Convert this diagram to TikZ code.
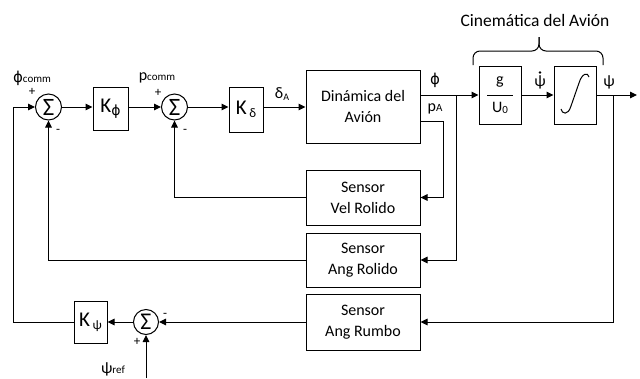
\documentclass[tikz,border=0pt]{standalone}
\usepackage{fontspec}
\setmainfont{Carlito}
\newfontfamily\dvs{DejaVu Sans}
\usetikzlibrary{arrows.meta,calc}
\begin{document}
\begin{tikzpicture}[x=1pt,y=-1pt, line width=1pt,
  blk/.style={draw, line width=1pt, inner sep=0pt, align=center, font=\fontsize{16}{21}\selectfont},
  sumnode/.style={draw, circle, minimum size=26pt, inner sep=0pt, font=\fontsize{25}{25}\selectfont},
  arr/.style={-{Triangle[length=7pt,width=6.5pt]}},
  lbl/.style={inner sep=0pt, font=\fontsize{16}{16}\selectfont},
  sgn/.style={inner sep=0pt, font=\fontsize{13}{13}\selectfont}]
\path[use as bounding box] (0,0) rectangle (640,378);
% title and brace
\node[inner sep=0pt, font=\fontsize{17.5}{17.5}\selectfont] (title) at (535,20) {Cinemática del Avión};
\draw[rounded corners=7pt] (473,65) -- (473,51) -- (539,51) -- (539,37);
\draw[rounded corners=7pt] (603,65) -- (603,51) -- (539,51) -- (539,37);
% blocks
\node[sumnode] (s1) at (48.5,107) {Σ};
\node[blk, minimum width=35pt, minimum height=43pt] (kphi) at (110.5,108.5)
  {{\fontsize{21}{21}\selectfont K}{\dvs\fontsize{14}{14}\selectfont\raisebox{-3pt}{ϕ}}};
\node[sumnode] (s2) at (174.5,107) {Σ};
\node[blk, minimum width=34pt, minimum height=45pt] (kd) at (246,109.5)
  {{\fontsize{21}{21}\selectfont K}\,{\fontsize{13}{13}\selectfont\raisebox{-3pt}{δ}}};
\node[blk, minimum width=114pt, minimum height=73pt] (dyn) at (363,106.5) {Dinámica del\\Avión};
\node[blk, minimum width=42pt, minimum height=58pt] (gU) at (500,95) {};
\node[blk, minimum width=42pt, minimum height=58pt] (integ) at (575,95) {};
\node[blk, minimum width=114pt, minimum height=55pt] (velrol) at (363,197.5) {Sensor\\Vel Rolido};
\node[blk, minimum width=114pt, minimum height=54pt] (angrol) at (363,260) {Sensor\\Ang Rolido};
\node[blk, minimum width=114pt, minimum height=56pt] (rumbo) at (363,322) {Sensor\\Ang Rumbo};
\node[sumnode, minimum size=25pt, font=\fontsize{24}{24}\selectfont] (s3) at (146,322) {Σ};
\node[blk, minimum width=33pt, minimum height=42pt] (kpsi) at (90.5,322)
  {{\fontsize{21}{21}\selectfont K}\,{\fontsize{13}{13}\selectfont\raisebox{-3pt}{ψ}}};
% inside g/U0 and integrator
\draw ([xshift=-13pt]gU.center) -- ([xshift=13pt]gU.center);
\node[lbl] (g) at (500,82) {g};
\node[lbl] (u0) at (500,108) {U{\fontsize{11}{11}\selectfont\raisebox{-1pt}{0}}};
\draw (561,109) .. controls (562,114) and (568,116) .. (571,106) -- (579,83) .. controls (582,73) and (588,72) .. (589,77);
% coordinates
\coordinate (lt) at (13,107);
\coordinate (pa) at (443,121);
\coordinate (jphi) at (456,95);
\coordinate (jpsi) at (613,95);
\coordinate (out) at (637,95);
\coordinate (refin) at (146,378);
% connectors
\draw[arr] (s1) -- (s1 -| kphi.west);
\draw[arr] (kphi.east |- s1) -- (s2);
\draw[arr] (s2) -- (s2 -| kd.west);
\draw[arr] (kd.east |- s2) -- (s2 -| dyn.west);
\draw[arr] (dyn.east |- gU.west) -- (gU.west);
\draw[arr] (gU.east) -- (integ.west);
\draw[arr] (integ.east) -- (out);
\draw[arr] (jphi) |- (angrol.east);
\draw[arr] (dyn.east |- pa) -- (pa) |- (velrol.east);
\draw[arr] (jpsi) |- (rumbo.east);
\draw[arr] (velrol.west) -| (s2.south);
\draw[arr] (angrol.west) -| (s1.south);
\draw[arr] (rumbo.west) -- (s3.east);
\draw[arr] (s3.west) -- (kpsi.east);
\draw[arr] (kpsi.west) -| (lt) -- (s1.west);
\draw[arr] (refin) -- (s3.south);
% labels
\node[lbl] (phic) at (32,78) {{\dvs\fontsize{15}{15}\selectfont ϕ}{\fontsize{11}{11}\selectfont comm}};
\node[sgn] (p1) at (32,92) {+};
\node[sgn] (m1) at (58,131) {-};
\node[lbl] (pc) at (157,78) {p{\fontsize{11}{11}\selectfont comm}};
\node[sgn] (p2) at (158,93) {+};
\node[sgn] (m2) at (185,131) {-};
\node[lbl] (da) at (282,94) {δ{\fontsize{10}{10}\selectfont\raisebox{-2pt}{A}}};
\node[lbl] (phil) at (435,80) {{\dvs\fontsize{15}{15}\selectfont ϕ}};
\node[lbl] (pal) at (435,109) {p{\fontsize{11}{11}\selectfont A}};
\node[lbl] (psid) at (540,82) {ψ};
\fill (540,72.5) circle (1.3pt);
\node[lbl] (psil) at (609,82) {ψ};
\node[lbl] (psir) at (113,369) {ψ{\fontsize{11}{11}\selectfont ref}};
\node[sgn] (p3) at (137,342) {+};
\node[sgn] (m3) at (165,315) {-};
\end{tikzpicture}
\end{document}
